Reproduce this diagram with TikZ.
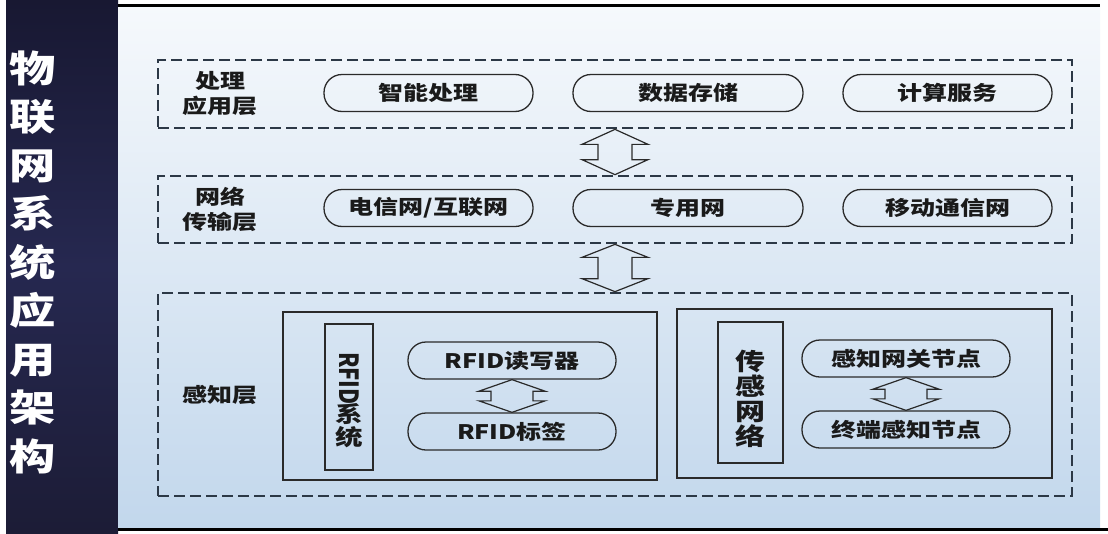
\documentclass[tikz,border=0pt]{standalone}
\usepackage{fontspec}
\usepackage{graphicx}
\newfontfamily\cjk{Noto Sans CJK SC}
\usetikzlibrary{calc}
\definecolor{navytop}{HTML}{181832}
\definecolor{navymid}{HTML}{262850}
\definecolor{navybot}{HTML}{1C1C36}
\definecolor{bgtop}{HTML}{F6F9FC}
\definecolor{bgmid}{HTML}{DCE8F4}
\definecolor{bgbot}{HTML}{C2D7EC}
\definecolor{txt}{HTML}{1A1A1A}
\definecolor{linec}{HTML}{2A2A2A}
\definecolor{dashc}{HTML}{2C3846}
\newcommand\stretchtxt[1]{\scalebox{1.25}[1]{#1}}
\newcommand\blockarrow[5]{%
  \draw[barrow] let \p1=(#1), \p2=(#2) in
    (\x1,\y1) -- (\x1+#3pt,\y1-#5pt) -- (\x1+#4pt,\y1-#5pt) -- (\x1+#4pt,\y2+#5pt)
    -- (\x1+#3pt,\y2+#5pt) -- (\x1,\y2) -- (\x1-#3pt,\y2+#5pt) -- (\x1-#4pt,\y2+#5pt)
    -- (\x1-#4pt,\y1-#5pt) -- (\x1-#3pt,\y1-#5pt) -- cycle;}
\begin{document}
\begin{tikzpicture}[x=1pt,y=-1pt,
  layer/.style={draw=dashc,line width=2.7pt,dash pattern=on 11pt off 5pt,inner sep=0pt},
  pill/.style={draw=linec,line width=1.3pt,rounded corners=18pt,minimum height=37pt,inner sep=0pt,
    font=\cjk\bfseries\fontsize{20}{22}\selectfont,text=txt},
  lbl/.style={font=\cjk\bfseries\fontsize{20}{25}\selectfont,text=txt,align=center,inner sep=0pt},
  inbox/.style={draw=linec,line width=1.3pt,inner sep=0pt},
  barrow/.style={draw=linec,line width=1.2pt,line join=miter},
  title/.style={font=\cjk\bfseries\fontsize{37}{48.5}\selectfont,text=white,align=center,inner sep=0pt}]
\useasboundingbox (0,0) rectangle (1108,533);
\fill[white] (0,0) rectangle (1108,533);
% left dark panel
\shade[top color=navytop,bottom color=navybot,middle color=navymid] (6,0) rectangle (118,533);
% main background
\shade[top color=bgtop,bottom color=bgbot,middle color=bgmid] (118,5) rectangle (1100,529);
\draw[black,line width=3pt] (118,5) -- (1100,5);
\draw[black,line width=2.5pt] (118,529.5) -- (1108,529.5);
% title
\node[title] (T) at (33,262) {\stretchtxt{物}\\\stretchtxt{联}\\\stretchtxt{网}\\\stretchtxt{系}\\\stretchtxt{统}\\\stretchtxt{应}\\\stretchtxt{用}\\\stretchtxt{架}\\\stretchtxt{构}};
% layers
\node[layer,minimum width=914pt,minimum height=68pt] (L1) at (615,94) {};
\node[layer,minimum width=914pt,minimum height=67pt] (L2) at (615,209.5) {};
\node[layer,minimum width=914pt,minimum height=203pt] (L3) at (615,394.5) {};
% layer labels
\node[lbl] (l1) at (220,93) {\stretchtxt{处理}\\\stretchtxt{应用层}};
\node[lbl] (l2) at (220,209.5) {\stretchtxt{网络}\\\stretchtxt{传输层}};
\node[lbl] (l3) at (220,395) {\stretchtxt{感知层}};
% layer 1 pills
\node[pill,minimum width=209pt] (p11) at (428.5,93) {\stretchtxt{智能处理}};
\node[pill,minimum width=230pt] (p12) at (688,93) {\stretchtxt{数据存储}};
\node[pill,minimum width=209pt] (p13) at (947.5,93) {\stretchtxt{计算服务}};
% layer 2 pills
\node[pill,minimum width=209pt] (p21) at (428.5,208) {\stretchtxt{电信网/互联网}};
\node[pill,minimum width=230pt] (p22) at (688,208) {\stretchtxt{专用网}};
\node[pill,minimum width=209pt] (p23) at (947.5,208) {\stretchtxt{移动通信网}};
% big arrows
\blockarrow{L1.south}{L2.north}{33}{17}{15}
\blockarrow{L2.south}{L3.north}{33}{17}{13}
% inner boxes
\node[inbox,minimum width=374pt,minimum height=168pt] (B1) at (470,396) {};
\node[inbox,minimum width=375pt,minimum height=169pt] (B2) at (864.5,393.5) {};
\node[inbox,minimum width=48pt,minimum height=146pt] (V1) at (349,397) {};
\node[inbox,minimum width=65pt,minimum height=141pt] (V2) at (750.5,392.5) {};
\node[lbl,font=\cjk\bfseries\fontsize{22}{27}\selectfont] (v1t) at (349,400) {\rotatebox{-90}{\scalebox{1}[1.2]{RFID}}\\[-2pt]\stretchtxt{系}\\[-4pt]\stretchtxt{统}};
\node[lbl,font=\cjk\bfseries\fontsize{24}{25}\selectfont] (v2t) at (750.5,399) {\stretchtxt{传}\\\stretchtxt{感}\\\stretchtxt{网}\\\stretchtxt{络}};
% inner pills
\node[pill,minimum width=208pt] (r1) at (512,360.5) {\stretchtxt{RFID读写器}};
\node[pill,minimum width=208pt] (r2) at (512,431.5) {\stretchtxt{RFID标签}};
\node[pill,minimum width=208pt] (s1) at (906,358.5) {\stretchtxt{感知网关节点}};
\node[pill,minimum width=208pt] (s2) at (906,429.5) {\stretchtxt{终端感知节点}};
\blockarrow{r1.south}{r2.north}{33}{21}{11.5}
\blockarrow{s1.south}{s2.north}{33}{21}{11.5}
\end{tikzpicture}
\end{document}
